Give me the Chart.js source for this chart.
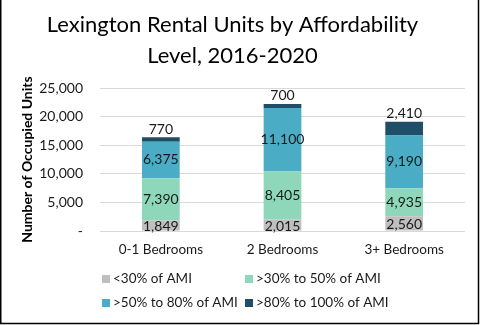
<!DOCTYPE html>
<html>
<head>
<meta charset="utf-8">
<script src="https://cdn.jsdelivr.net/npm/chart.js@4.4.1/dist/chart.umd.min.js"></script>
<style>
  html, body { margin: 0; padding: 0; background: #fff; }
  #wrap { width: 481px; height: 325px; position: relative; }
</style>
</head>
<body>
<div id="wrap"><canvas id="grafico" width="481" height="325"></canvas></div>
<script>
const categorias = ["0-1 Bedrooms", "2 Bedrooms", "3+ Bedrooms"]
const abaixo30 = [1849, 2015, 2560]
const de30a50 = [7390, 8405, 4935]
const de50a80 = [6375, 11100, 9190]
const de80a100 = [770, 700, 2410]
const rotulosSeries = ["<30% of AMI", ">30% to 50% of AMI", ">50% to 80% of AMI", ">80% to 100% of AMI"]
const coresSeries = ["#BFBFBF", "#8ED7BB", "#4BACC6", "#1F4E68"]

const fonte = "Lato, 'Open Sans', sans-serif"
const fmt = v => v.toLocaleString("en-US")

// rotulos de valor no meio de cada bloco (o ultimo fica acima da barra)
const rotulosValor = {
    id: "rotulosValor",
    afterDatasetsDraw(chart) {
        const ctx = chart.ctx
        ctx.save()
        ctx.font = "14px " + fonte
        ctx.fillStyle = "#1a1a1a"
        ctx.textAlign = "center"
        const ultimo = chart.data.datasets.length - 1
        chart.data.datasets.forEach((ds, i) => {
            chart.getDatasetMeta(i).data.forEach((bar, j) => {
                const txt = fmt(ds.data[j])
                if (i == ultimo) {
                    ctx.textBaseline = "bottom"
                    ctx.fillText(txt, bar.x, bar.y - 1)
                } else {
                    ctx.textBaseline = "middle"
                    const meio = (bar.y + bar.base) / 2
                    ctx.fillText(txt, bar.x, i == 0 ? meio + 1 : meio)
                }
            })
        })
        ctx.restore()
    }
}

// legenda em duas colunas + borda da imagem
const legendaGrade = {
    id: "legendaGrade",
    afterDraw(chart) {
        const ctx = chart.ctx
        ctx.save()
        ctx.font = "13.5px " + fonte
        ctx.textBaseline = "middle"
        ctx.textAlign = "left"
        const colX = [102, 245]
        const linY = [279, 303]
        chart.data.datasets.forEach((ds, i) => {
            const x = colX[i % 2]
            const y = linY[Math.floor(i / 2)]
            ctx.fillStyle = ds.backgroundColor
            ctx.fillRect(x, y - 4, 8, 8)
            ctx.fillStyle = "#1a1a1a"
            ctx.fillText(ds.label, x + 11, y)
        })
        ctx.strokeStyle = "#000"
        ctx.lineWidth = 1.5
        ctx.beginPath()
        ctx.moveTo(0.75, 0)
        ctx.lineTo(0.75, 323.5)
        ctx.lineTo(478.5, 323.5)
        ctx.lineTo(478.5, 0)
        ctx.stroke()
        ctx.restore()
    }
}

const series = [abaixo30, de30a50, de50a80, de80a100]

new Chart(document.getElementById("grafico"), {
    type: "bar",
    data: {
        labels: categorias,
        datasets: series.map((valores, i) => ({
            label: rotulosSeries[i],
            data: valores,
            backgroundColor: coresSeries[i],
            barPercentage: 0.62,
            categoryPercentage: 0.5
        }))
    },
    options: {
        responsive: false,
        animation: false,
        layout: { padding: { left: 0, right: 16, top: 0, bottom: 70 } },
        plugins: {
            legend: { display: false },
            tooltip: { enabled: false },
            title: {
                display: true,
                text: ["Lexington Rental Units by Affordability", "Level, 2016-2020"],
                color: "#000",
                font: { family: fonte, size: 22, weight: "normal", lineHeight: 1.41 },
                padding: { top: 9, bottom: 17 }
            }
        },
        scales: {
            x: {
                stacked: true,
                grid: { display: false },
                border: { display: false },
                ticks: { color: "#1a1a1a", font: { family: fonte, size: 13.5 }, padding: 3 },
                afterFit: s => { s.height = 24 }
            },
            y: {
                stacked: true,
                min: 0,
                max: 25000,
                grid: { color: "#D9D9D9", drawTicks: false },
                border: { display: false },
                ticks: {
                    stepSize: 5000,
                    padding: 17,
                    color: "#1a1a1a",
                    font: { family: fonte, size: 14 },
                    callback: v => v == 0 ? "-" : fmt(v)
                },
                title: {
                    display: true,
                    text: "Number of Occupied Units",
                    color: "#000",
                    font: { family: fonte, size: 14, weight: "bold" },
                    padding: { top: 19, bottom: 4 }
                },
                afterFit: s => { s.width = 100 }
            }
        }
    },
    plugins: [rotulosValor, legendaGrade]
})
</script>
</body>
</html>
